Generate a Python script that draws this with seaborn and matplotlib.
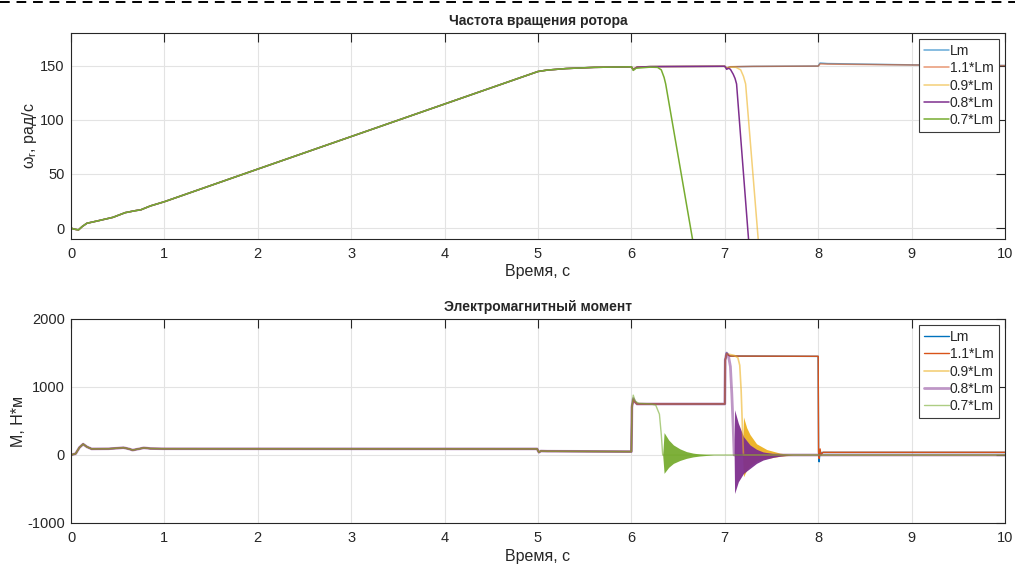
import numpy as np
import pandas as pd
import matplotlib
matplotlib.use("Agg")
import matplotlib.pyplot as plt
import seaborn as sns
from matplotlib.lines import Line2D

# ---------------- data ----------------
series_labels = ["Lm", "1.1*Lm", "0.9*Lm", "0.8*Lm", "0.7*Lm"]
series_colors = ["#0072BD", "#D95319", "#EDB120", "#7E2F8E", "#77AC30"]

# rotor speed, common start (all series overlap until 6 s)
speed_t_start = [0.0, 0.04, 0.08, 0.12, 0.17, 0.30, 0.45, 0.58, 0.68, 0.75, 0.85, 1.0,
                 2.0, 3.0, 4.0, 5.0, 5.1, 5.3, 5.6, 6.0]
speed_start = [0.0, -1.0, -1.6, 1.5, 4.5, 7.0, 10.0, 14.3, 16.0, 17.0, 20.5, 24.4,
               54.5, 84.5, 114.5, 144.5, 145.8, 147.2, 148.3, 148.8]

speed_t_lm = [6.02, 6.06, 6.2, 7.0, 7.02, 7.06, 7.3, 8.0, 8.02, 8.1, 9.0, 10.0]
speed_lm = [146.5, 148.5, 149.0, 149.3, 147.5, 148.8, 149.2, 149.5, 152.3, 151.8, 150.6, 150.0]
speed_t_11 = [6.02, 6.06, 6.2, 7.0, 7.02, 7.06, 7.3, 8.0, 8.02, 8.1, 9.0, 10.0]
speed_11 = [146.8, 148.6, 149.0, 149.3, 147.8, 148.9, 149.2, 149.5, 151.5, 151.3, 150.5, 149.9]
speed_t_09 = [6.02, 6.06, 6.2, 7.0, 7.02, 7.06, 7.12, 7.17, 7.20, 7.223, 7.348, 7.40]
speed_09 = [146.5, 148.5, 149.0, 149.3, 147.5, 148.5, 148.3, 146.0, 140.0, 133.0, 0.0, -55.0]
speed_t_08 = [6.02, 6.06, 6.2, 7.0, 7.02, 7.04, 7.06, 7.09, 7.11, 7.126, 7.245, 7.30]
speed_08 = [146.0, 148.5, 149.0, 149.3, 146.5, 147.5, 146.5, 142.0, 138.0, 133.0, 0.0, -60.0]
speed_t_07 = [6.02, 6.05, 6.2, 6.28, 6.32, 6.35, 6.367, 6.634, 6.70]
speed_07 = [145.5, 147.5, 148.5, 148.3, 146.0, 139.0, 133.0, 0.0, -33.0]

# electromagnetic torque, common start
torque_t_start = [0.0, 0.05, 0.09, 0.13, 0.17, 0.22, 0.40, 0.50, 0.56, 0.62, 0.66, 0.72,
                  0.78, 0.85, 1.0, 4.99, 5.01, 5.03, 5.10, 6.0]
torque_start = [0, 20, 110, 160, 120, 90, 92, 100, 108, 90, 72, 88,
                105, 95, 92, 90, 40, 58, 55, 50]

torque_t_lm = [6.005, 6.02, 6.04, 6.06, 7.0, 7.005, 7.02, 7.04, 7.06, 8.0, 8.004, 8.01,
               8.02, 8.03, 8.05, 10.0]
torque_lm = [700, 820, 780, 750, 750, 1400, 1500, 1470, 1455, 1450, 40, -100,
             70, 20, 38, 38]
torque_t_11 = [6.005, 6.02, 6.04, 6.06, 7.0, 7.005, 7.02, 7.04, 7.06, 8.0, 8.004, 8.01,
               8.02, 8.03, 8.05, 10.0]
torque_11 = [700, 810, 775, 750, 752, 1400, 1490, 1465, 1455, 1452, 40, -50,
             90, 0, 40, 40]
torque_t_09 = [6.005, 6.02, 6.04, 6.06, 7.0, 7.005, 7.02, 7.05, 7.10, 7.14, 7.16, 7.175,
               7.19, 7.20, 10.0]
torque_09 = [700, 820, 780, 750, 750, 1400, 1490, 1480, 1465, 1430, 1320, 950,
             350, 0, 0]
torque_t_08 = [6.005, 6.02, 6.04, 6.06, 7.0, 7.005, 7.02, 7.04, 7.06, 7.075, 7.09, 7.10, 10.0]
torque_08 = [700, 830, 780, 750, 750, 1400, 1500, 1450, 1300, 900, 400, 0, 0]
torque_t_07 = [6.005, 6.02, 6.04, 6.08, 6.2, 6.26, 6.30, 6.32, 6.335, 10.0]
torque_07 = [700, 880, 790, 760, 752, 735, 600, 300, 0, 0]

# oscillation envelopes of the torque after loss of synchronism
osc_t_09 = [7.19, 7.20, 7.235, 7.27, 7.34, 7.45, 7.59, 7.73]
osc_hi_09 = [0, 560, 400, 300, 165, 80, 28, 0]
osc_lo_09 = [0, -320, -220, -160, -90, -50, -20, 0]
osc_t_08 = [7.100, 7.105, 7.145, 7.20, 7.27, 7.34, 7.41, 7.52, 7.60, 7.70]
osc_hi_08 = [0, 665, 468, 271, 148, 84, 45, 20, 10, 0]
osc_lo_08 = [0, -566, -394, -271, -197, -123, -74, -34, -15, 0]
osc_t_07 = [6.335, 6.35, 6.40, 6.45, 6.52, 6.59, 6.66, 6.73, 6.80, 6.88]
osc_hi_07 = [0, 330, 220, 148, 90, 50, 28, 15, 7, 0]
osc_lo_07 = [0, -270, -180, -123, -80, -49, -28, -15, -7, 0]

x_ticks = [0, 1, 2, 3, 4, 5, 6, 7, 8, 9, 10]
speed_ticks = [0, 50, 100, 150]
torque_ticks = [-1000, 0, 1000, 2000]

# ---------------- style ----------------
sns.set_style("white")
plt.rcParams["font.family"] = ["Liberation Sans", "DejaVu Sans"]
plt.rcParams["axes.edgecolor"] = "#262626"
plt.rcParams["axes.linewidth"] = 0.8
plt.rcParams["axes.unicode_minus"] = False
plt.rcParams["mathtext.default"] = "regular"

fig = plt.figure(figsize=(10.15, 5.66), dpi=100)
ax1 = fig.add_axes([71 / 1015, 1 - 239 / 566, 934 / 1015, 206 / 566])
ax2 = fig.add_axes([71 / 1015, 1 - 523 / 566, 934 / 1015, 204 / 566])

speed_tails = [(speed_t_lm, speed_lm), (speed_t_11, speed_11), (speed_t_09, speed_09),
               (speed_t_08, speed_08), (speed_t_07, speed_07)]
torque_tails = [(torque_t_lm, torque_lm), (torque_t_11, torque_11), (torque_t_09, torque_09),
                (torque_t_08, torque_08), (torque_t_07, torque_07)]
osc = {2: (osc_t_09, osc_hi_09, osc_lo_09),
       3: (osc_t_08, osc_hi_08, osc_lo_08),
       4: (osc_t_07, osc_hi_07, osc_lo_07)}

top_alpha = [0.6, 0.6, 0.6, 1.0, 1.0]
bot_alpha = [1.0, 1.0, 0.6, 0.5, 0.6]
bot_lw = [1.0, 1.0, 1.2, 2.0, 1.0]

for i, lab in enumerate(series_labels):
    t = speed_t_start + speed_tails[i][0]
    v = speed_start + speed_tails[i][1]
    sns.lineplot(x=t, y=v, ax=ax1, color=series_colors[i], lw=1.1, alpha=top_alpha[i],
                 label=lab, sort=False, estimator=None)

for i, lab in enumerate(series_labels):
    t = torque_t_start + torque_tails[i][0]
    v = torque_start + torque_tails[i][1]
    if i in osc:
        ot, hi, lo = osc[i]
        ax2.fill_between(ot, lo, hi, color=series_colors[i], alpha=0.95, lw=0)
    sns.lineplot(x=t, y=v, ax=ax2, color=series_colors[i], lw=bot_lw[i], alpha=bot_alpha[i],
                 label=lab, sort=False, estimator=None)

for ax, yt, ylim in [(ax1, speed_ticks, (-10, 180)), (ax2, torque_ticks, (-1000, 2000))]:
    ax.set_xlim(0, 10)
    ax.set_ylim(*ylim)
    ax.set_xticks(x_ticks)
    ax.set_yticks(yt)
    ax.grid(True, color="#e3e3e3", lw=0.8)
    ax.set_axisbelow(True)
    ax.tick_params(direction="in", top=True, right=True, length=6.5, width=0.8,
                   labelsize=10.5, colors="#262626", pad=4.5)
    ax.tick_params(axis="x", pad=6)
    for s in ax.spines.values():
        s.set_visible(True)
        s.set_color("#262626")
        s.set_linewidth(0.8)
    ax.set_xlabel("Время, с", fontsize=11.5, color="#262626", labelpad=2)
    leg = ax.legend(loc="upper right", fontsize=10, frameon=True, fancybox=False,
                    edgecolor="#3a3a3a", framealpha=1, borderaxespad=0.45,
                    handlelength=1.8, handletextpad=0.05, labelspacing=0.23,
                    borderpad=0.35)
    leg.get_frame().set_linewidth(0.8)

ax1.set_ylabel("ω$_r$, рад/с", fontsize=11.5, color="#262626", labelpad=1)
ax2.set_ylabel("M, Н*м", fontsize=11.5, color="#262626", labelpad=1)
ax2.xaxis.labelpad = 3
ax1.set_title("Частота вращения ротора", fontsize=10, fontweight="bold", pad=6)
ax2.set_title("Электромагнитный момент", fontsize=10, fontweight="bold", pad=6)

fig.add_artist(Line2D([0, 1], [1 - 2 / 566, 1 - 2 / 566], transform=fig.transFigure,
                      color="black", lw=1.4, linestyle=(0, (5, 3.5))))

fig.savefig("out.png", dpi=100)
